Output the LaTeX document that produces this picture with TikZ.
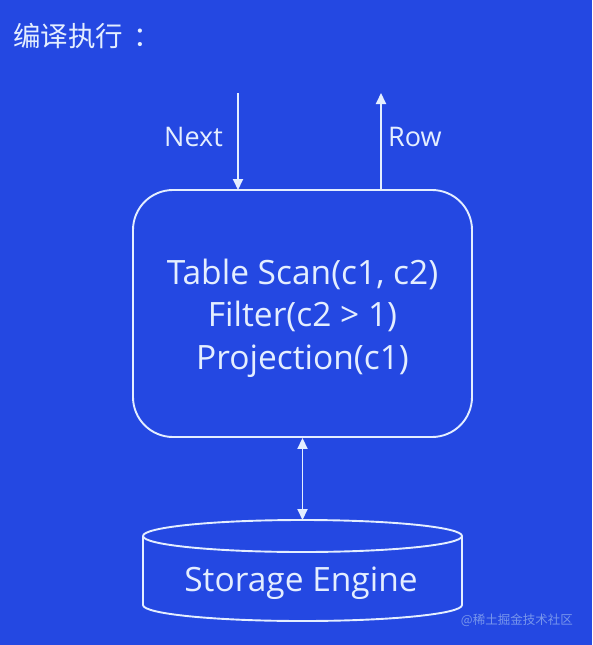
\documentclass[tikz,border=0pt]{standalone}
\usepackage{fontspec}
\setmainfont{Open Sans}
\newfontfamily\cjk{Noto Sans CJK SC}
\usetikzlibrary{arrows.meta}
\definecolor{bg}{RGB}{36,72,226}
\definecolor{fg}{RGB}{228,238,255}
\definecolor{wm}{RGB}{120,150,236}
\tikzset{
  line/.style={draw=fg, line width=1.9pt},
  arr/.style={line, -{Triangle[length=11pt,width=10pt]}},
  darr/.style={line, {Triangle[length=11pt,width=10pt]}-{Triangle[length=11pt,width=10pt]}},
  lbl/.style={text=fg, font=\fontsize{27}{30}\selectfont, inner sep=0pt},
  opbox/.style={line, rounded corners=40pt, minimum width=339pt, minimum height=247pt, inner sep=0pt},
}
\begin{document}
\begin{tikzpicture}[x=1pt,y=-1pt]
\fill[bg] (0,0) rectangle (592,645);
\useasboundingbox (0,0) rectangle (592,645);
% title
\node[anchor=west, text=fg, inner sep=0pt, font=\cjk\fontsize{27.5}{30}\selectfont] (title) at (13,36) {编译执行\hspace{10pt}：};
% operator box
\node[opbox] (op) at (302.5,313.5) {};
\node[text=fg, align=center, inner sep=0pt, font=\fontsize{33.5}{42.5}\selectfont] (optext) at (302.5,318) {Table Scan(c1, c2)\\Filter(c2 > 1)\\Projection(c1)};
% next / row
\coordinate (nexttop) at (238,93);
\coordinate (nextbot) at (238,190);
\coordinate (rowtop) at (381,93);
\coordinate (rowbot) at (381,190);
\draw[arr] (nexttop) -- (nextbot);
\draw[arr] (rowbot) -- (rowtop);
\node[lbl, anchor=east] (next) at (223,137) {Next};
\node[lbl, anchor=west] (row) at (388,137) {Row};
% cylinder
\draw[line] (143,536) arc[start angle=180, end angle=-180, x radius=159.5pt, y radius=16pt];
\draw[line] (143,536) -- (143,605) arc[start angle=180, end angle=360, x radius=159.5pt, y radius=16pt] -- (462,536);
\coordinate (cyltop) at (302.5,520);
\node[text=fg, inner sep=0pt, font=\fontsize{33.5}{36}\selectfont] (se) at (301,583) {Storage Engine};
\draw[darr] (op.south) -- (cyltop);
% watermark
\node[anchor=east, text=wm, inner sep=0pt, font=\cjk\fontsize{12.5}{14}\selectfont] (wmk) at (573,620) {@稀土掘金技术社区};
\end{tikzpicture}
\end{document}
